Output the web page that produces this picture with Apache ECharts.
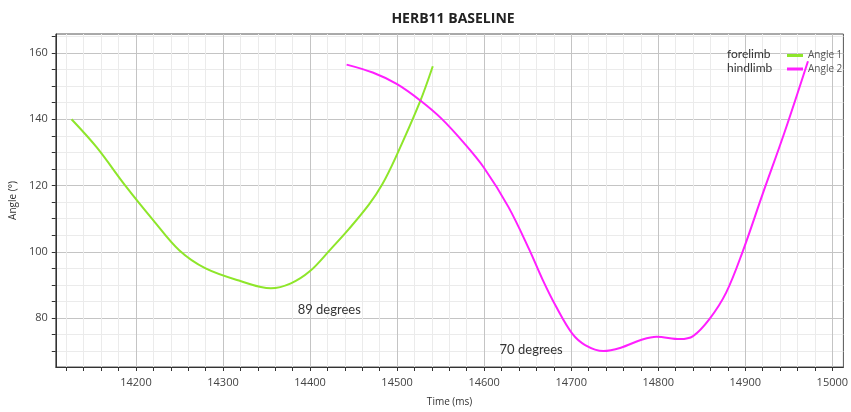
<!DOCTYPE html>
<html>
<head>
<meta charset="utf-8">
<script src="https://cdn.jsdelivr.net/npm/echarts@6/dist/echarts.min.js"></script>
<style>
html,body{margin:0;padding:0;background:#fff;}
#chart{width:851px;height:412px;}
</style>
</head>
<body>
<div id="chart"></div>
<script>
// ---- data ----
const angle1Time = [14126, 14155, 14188, 14220, 14250, 14280, 14320, 14355, 14378, 14400, 14423, 14445, 14468, 14483, 14498, 14526, 14541];
const angle1Value = [140.0, 131.5, 119.9, 109.5, 100.4, 95.0, 91.2, 89.0, 90.5, 94.2, 100.6, 107.0, 114.4, 120.4, 128.3, 145.1, 156.0];

const angle2Time = [14442, 14472, 14500, 14527, 14551, 14577, 14600, 14628, 14652, 14667, 14682, 14701, 14716, 14737, 14757, 14780, 14798, 14825, 14840, 14859, 14878, 14897, 14920, 14945, 14972];
const angle2Value = [156.5, 154.1, 150.6, 145.6, 140.2, 132.8, 125.3, 113.5, 100.6, 91.7, 83.8, 75.4, 71.9, 70.1, 71.1, 73.4, 74.4, 73.7, 74.6, 79.8, 87.7, 100.1, 117.5, 136.0, 157.5];

const xTickLabels = [14200, 14300, 14400, 14500, 14600, 14700, 14800, 14900, 15000];
const yTickLabels = [80, 100, 120, 140, 160];

const seriesNames = ['Angle 1', 'Angle 2'];
const groupNames = ['forelimb', 'hindlimb'];

const annotationText = ['89 degrees', '70 degrees'];
const annotationTime = [14422, 14654];
const annotationValue = [82.6, 70.4];

// ---- axis extents ----
const xMin = 14107.9, xMax = 15012.7;
const yMin = 65.27, yMax = 165.73;

const xMinor = [];
for (let v = 14120; v <= 15000; v += 20) xMinor.push(v);
const yMinor = [];
for (let v = 70; v <= 165; v += 5) yMinor.push(v);

const MAJOR = '#c4c4c4', MINOR = '#ebebeb';
const FONT = "'Open Sans', 'Noto Sans', sans-serif";
const FONT2 = "'Lato', 'Noto Sans', sans-serif";

const zip = (a, b) => a.map((t, i) => [t, b[i]]);

const chart = echarts.init(document.getElementById('chart'), null, {renderer: 'canvas'});
chart.setOption({
  animation: false,
  backgroundColor: '#ffffff',
  grid: {
    left: 51, right: -2, top: 34, bottom: 39.7,
    show: true, borderColor: '#555', borderWidth: 1, backgroundColor: 'transparent'
  },
  legend: {
    data: seriesNames,
    orient: 'vertical',
    left: 787, top: 50.5, padding: 0,
    itemWidth: 16, itemHeight: 3, itemGap: 3.5,
    icon: 'rect',
    textStyle: {fontFamily: FONT, fontSize: 10, color: '#555'}
  },
  graphic: [
    {
      type: 'text', x: 453, y: 19.5, z: 100,
      style: {text: 'HERB11 BASELINE', font: "bold 14px 'Open Sans', 'Noto Sans', sans-serif", fill: '#222',
        textAlign: 'center', textVerticalAlign: 'middle', verticalAlign: 'middle'}
    }
  ].concat(groupNames.map((g, i) => ({
    type: 'text', x: 727, y: 54 + i * 14.3, z: 100,
    style: {text: g, font: "12px 'Lato', 'Noto Sans', sans-serif", fill: '#333',
      textAlign: 'left', textVerticalAlign: 'middle', verticalAlign: 'middle'}
  }))),
  xAxis: {
    type: 'value', min: xMin, max: xMax,
    name: 'Time (ms)', nameLocation: 'middle', nameGap: 30,
    nameTextStyle: {fontFamily: FONT, fontSize: 10, color: '#333'},
    axisLine: {show: true, onZero: false, lineStyle: {color: '#333', width: 1}},
    axisTick: {show: true, customValues: xMinor, length: 4, lineStyle: {color: '#333'}},
    axisLabel: {customValues: xTickLabels, fontFamily: FONT, fontSize: 11, color: '#444', margin: 10,
      formatter: v => String(v)},
    splitLine: {show: true, lineStyle: {color: [MINOR, MINOR, MINOR, MINOR, MAJOR], width: 1}}
  },
  yAxis: {
    type: 'value', min: yMin, max: yMax,
    name: 'Angle (°)', nameLocation: 'middle', nameGap: 23, nameRotate: 90,
    nameTextStyle: {fontFamily: FONT, fontSize: 10, color: '#333'},
    axisLine: {show: true, onZero: false, lineStyle: {color: '#333', width: 1}},
    axisTick: {show: true, customValues: yMinor, length: 4, lineStyle: {color: '#333'}},
    axisLabel: {customValues: yTickLabels, fontFamily: FONT, fontSize: 11, color: '#444', margin: 8},
    splitLine: {show: true, lineStyle: {color: [MINOR, MINOR, MAJOR, MINOR], width: 1}}
  },
  series: [
    {
      name: seriesNames[0], type: 'line', data: zip(angle1Time, angle1Value),
      smooth: 0.35, showSymbol: false, symbol: 'none',
      lineStyle: {color: '#8ee62a', width: 2}, itemStyle: {color: '#8ee62a'},
      markPoint: {
        symbol: 'rect', symbolSize: 0, silent: true,
        label: {show: true, position: 'inside', formatter: p => p.name,
          fontFamily: FONT2, fontSize: 13, color: '#333'},
        data: [{name: annotationText[0], coord: [annotationTime[0], annotationValue[0]]}]
      }
    },
    {
      name: seriesNames[1], type: 'line', data: zip(angle2Time, angle2Value),
      smooth: 0.35, showSymbol: false, symbol: 'none',
      lineStyle: {color: '#ff1fff', width: 2}, itemStyle: {color: '#ff1fff'},
      markPoint: {
        symbol: 'rect', symbolSize: 0, silent: true,
        label: {show: true, position: 'inside', formatter: p => p.name,
          fontFamily: FONT2, fontSize: 13, color: '#333'},
        data: [{name: annotationText[1], coord: [annotationTime[1], annotationValue[1]]}]
      }
    }
  ]
});
</script>
</body>
</html>
